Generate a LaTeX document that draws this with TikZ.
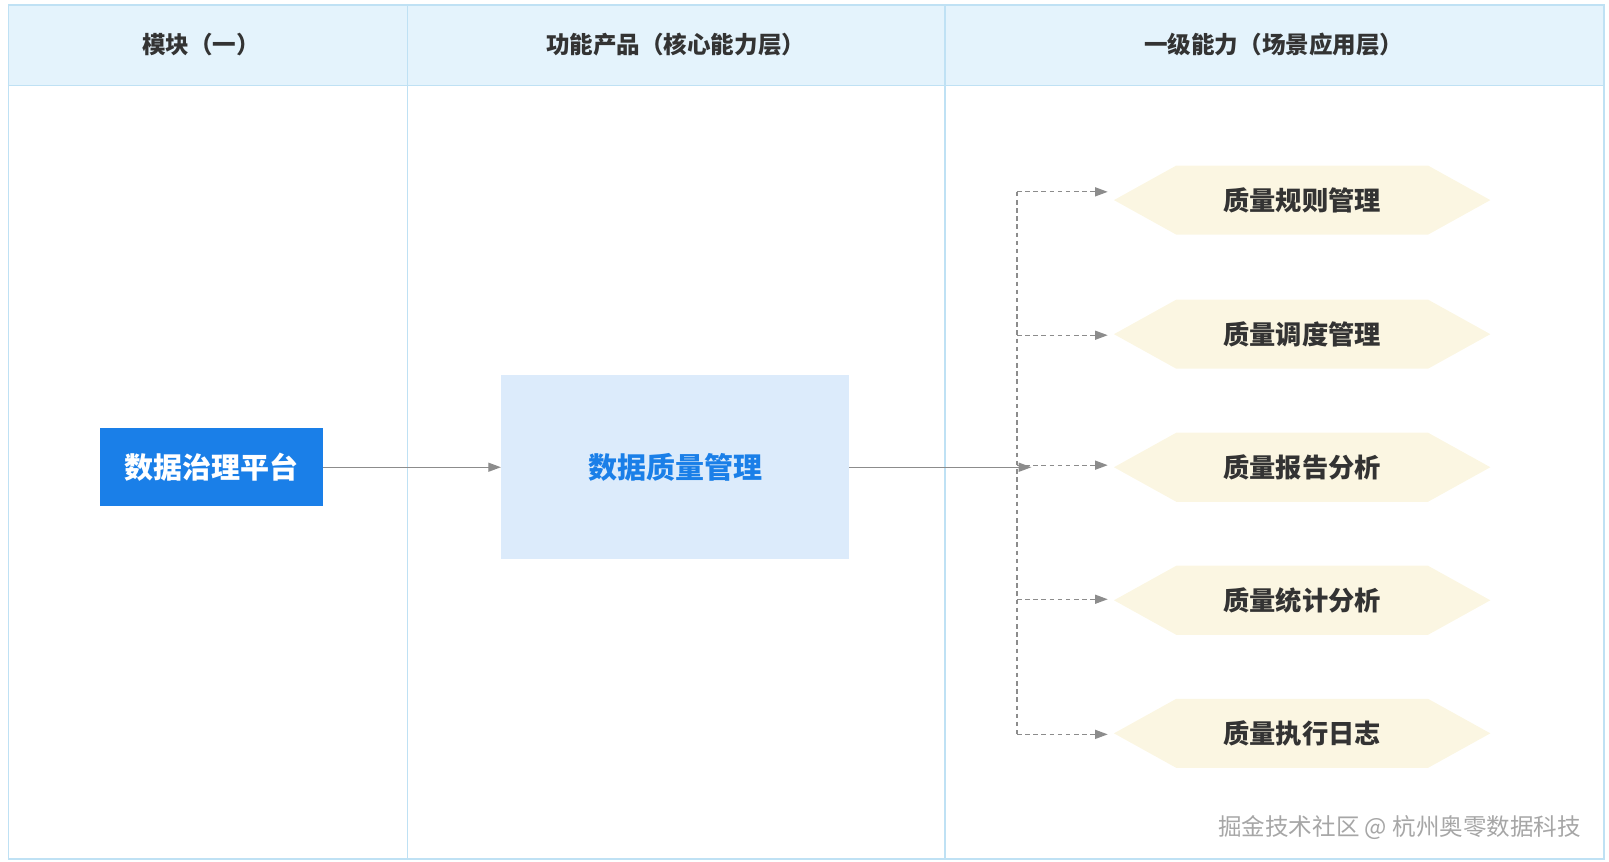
\documentclass[tikz,border=0pt]{standalone}
\usepackage{fontspec}
\setmainfont{Noto Sans CJK SC}
\usepackage{tikz}
\usetikzlibrary{shapes.symbols, arrows.meta, positioning}
\definecolor{headBlue}{HTML}{E4F3FC}
\definecolor{lineBlue}{HTML}{BFE1F4}
\definecolor{mainBlue}{HTML}{1A7FE8}
\definecolor{paleBlue}{HTML}{DCEBFB}
\definecolor{paleYellow}{HTML}{FBF6E2}
\definecolor{arrowGray}{HTML}{8C8C8C}
\definecolor{textDark}{HTML}{333333}

\begin{document}
\begin{tikzpicture}[x=0.02cm, y=-0.02cm,
    head/.style={font=\fontsize{13}{15}\selectfont\bfseries, text=textDark},
    hexa/.style={signal, signal to=east and west, signal pointer angle=58, fill=paleYellow,
        minimum width=7.3cm, minimum height=1.34cm, inner sep=0pt,
        font=\fontsize{14.5}{17}\selectfont\bfseries, text=textDark},
    arrow/.style={-{Triangle[length=7pt,width=5pt]}, arrowGray, line width=0.7pt},
    dasharrow/.style={arrow, dash pattern=on 2.5pt off 2pt},
]
    \useasboundingbox (0,0) rectangle (1560,835);
    % table frame
    \fill[headBlue] (8,5) rectangle (1555,83);
    \draw[lineBlue, line width=0.8pt] (8,5) rectangle (1555,833);
    \draw[lineBlue, line width=0.8pt] (8,83) -- (1555,83);
    \draw[lineBlue, line width=0.8pt] (395,5) -- (395,833);
    \draw[lineBlue, line width=0.8pt] (916,5) -- (916,833);
    \node[head] (h1) at (195,43) {模块（一）};
    \node[head] (h2) at (655,43) {功能产品（核心能力层）};
    \node[head] (h3) at (1235,43) {一级能力（场景应用层）};

    % main nodes
    \node[fill=mainBlue, text=white, minimum width=4.32cm, minimum height=1.52cm, inner sep=0pt,
        font=\fontsize{16}{19}\selectfont\bfseries] (plat) at (205,453) {数据治理平台};
    \node[fill=paleBlue, text=mainBlue, minimum width=6.74cm, minimum height=3.56cm, inner sep=0pt,
        font=\fontsize{16}{19}\selectfont\bfseries] (dqm) at (654.5,453) {数据质量管理};
    \draw[arrow] (plat) -- (dqm);

    % capabilities
    \foreach \name/\yy/\txt in {c1/194/质量规则管理, c2/324/质量调度管理, c3/453/质量报告分析,
        c4/582/质量统计分析, c5/711/质量执行日志}
        \node[hexa] (\name) at (1262.5,\yy) {\txt};

    \coordinate (bus) at (1000,453);
    \draw[arrow] (dqm.east) -- (bus);
    \coordinate (top) at (986,186);
    \coordinate (bot) at (986,712);
    \draw[arrowGray, line width=0.7pt, dash pattern=on 2.5pt off 2pt] (top) -- (bot);
    \foreach \name/\yy in {c1/186, c2/325, c3/451, c4/581, c5/712} {
        \coordinate (s\name) at (986,\yy);
        \coordinate (t\name) at (1074,\yy);
        \draw[dasharrow] (s\name) -- (t\name);
    }

    \node[text=gray!70, font=\fontsize{13}{15}\selectfont] (wm) at (1357,802) {掘金技术社区 @ 杭州奥零数据科技};
\end{tikzpicture}
\end{document}
